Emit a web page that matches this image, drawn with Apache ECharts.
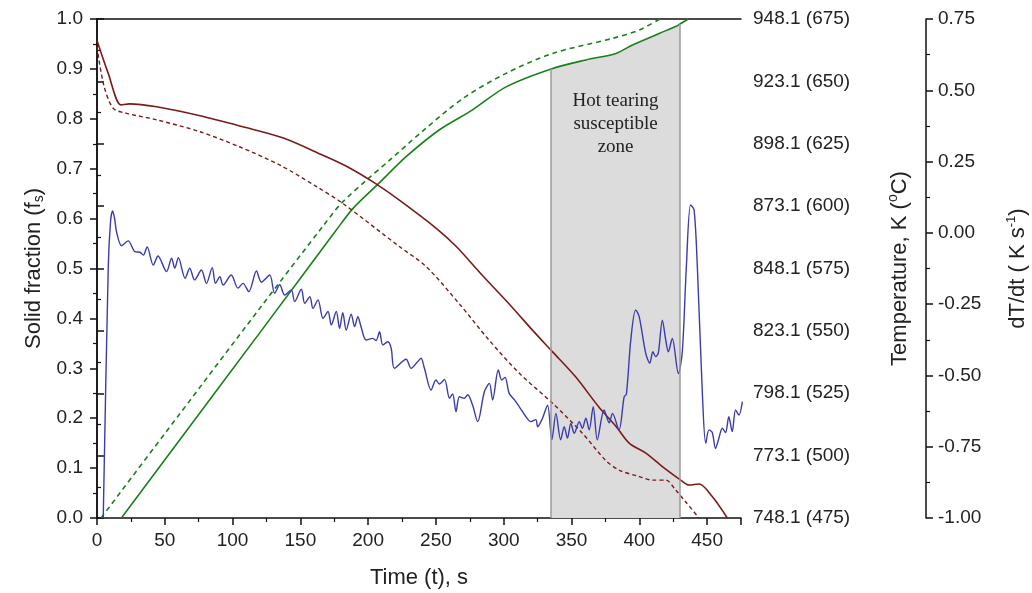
<!DOCTYPE html>
<html>
<head>
<meta charset="utf-8">
<script src="https://cdn.jsdelivr.net/npm/echarts@6/dist/echarts.min.js"></script>
<style>
  html, body { margin: 0; padding: 0; background: #fff; }
  #chart { width: 1032px; height: 593px; }
</style>
</head>
<body>
<div id="chart"></div>
<script>
// solid fraction (left axis)
const fsSolidT = [18, 60, 120, 176.5, 188.7, 208, 228, 252.6, 277, 301.7, 335, 360.6, 382.7, 395, 414.6, 426.8, 430, 436];
const fsSolidV = [0, 0.153, 0.371, 0.577, 0.62, 0.671, 0.724, 0.778, 0.818, 0.864, 0.9, 0.918, 0.931, 0.948, 0.971, 0.985, 0.99, 1.0];
const fsDashT = [3, 60, 120, 166.7, 180, 200, 215.8, 240, 270, 301.7, 336, 380, 400, 415];
const fsDashV = [0, 0.205, 0.42, 0.585, 0.63, 0.68, 0.717, 0.775, 0.841, 0.891, 0.931, 0.961, 0.978, 1.0];

// temperature in °C (right axis)
const tempSolidT = [0, 8.3, 17.7, 24, 44, 76, 107.6, 137, 166.6, 186, 205, 223, 250, 265, 284, 306, 321, 336, 353, 370, 383, 392.5, 404.8, 417, 430.5, 436.7, 444, 453.8, 464.9];
const tempSolidC = [666.4, 653.2, 640.6, 641.0, 639.8, 636.2, 631.8, 627.4, 620.4, 615.4, 609.2, 602.4, 591.2, 583.8, 572.4, 559.6, 550.4, 541.6, 531.6, 519.6, 511.6, 505.0, 501.0, 495.6, 490.2, 488.2, 488.6, 483.6, 475];
const tempDashT = [0, 5, 12, 21.8, 44, 76, 105, 135, 162, 181, 223, 242.7, 267, 289, 311.5, 336, 358, 375, 385, 400, 409.6, 419.5, 426.8, 434, 444];
const tempDashC = [663.8, 648.5, 639.2, 637.2, 634.6, 629.8, 623.8, 616.4, 607.8, 601.2, 583.8, 575.8, 561, 546.4, 533, 521, 509, 498.2, 494.2, 491.6, 490.2, 490.2, 486.2, 481.6, 475];

// cooling rate dT/dt (outer right axis)
const rateT = [4.6, 8.3, 10, 11.5, 13, 14.4, 18.1, 23, 28, 31.7, 34.2, 37, 41.5, 45, 51.3, 55, 57.4, 60, 65, 68.4, 72, 77, 80.7, 85, 87.4, 90.6, 93, 99, 104, 107.7, 112, 117.6, 121.3,
  127.4, 131, 134.8, 138.4, 143.3, 145.8, 150.7, 153.2, 157, 159.3, 163, 166.7, 170.4, 172.8, 176.5, 178.9, 181.3, 183.8, 187.5, 190, 192.4, 194.8, 198.5, 203.4, 205.8, 208.4, 210.8, 214.5, 217, 219.4, 228, 231.7, 236, 239, 241.5,
  246.4, 250, 252.5, 256.3, 260, 262.3, 264.8, 267.3, 271, 273.4, 277, 280.8, 285.7, 289.4, 291.8, 296, 298.5, 301, 304, 307.8, 311.5, 316.4, 320, 323.7, 325, 328.6, 332.3,
  335.5, 338.5, 342, 344.6, 347, 349.5, 352, 355.7, 358, 360.6, 363, 366, 369, 374, 377.8, 380.2, 385, 388.8, 390.5, 393.7, 397.3, 399.9, 404.7, 407.7, 410, 412, 414, 417, 419.5, 421.4, 424.3, 428.8, 431.7,
  434.7, 437.8, 440.4, 442.8, 446.5, 449, 451.4, 453.8, 456.2, 458.7, 461.2, 463.6, 466, 468.5, 471, 473.5, 476];
const rateV = [-1.0, -0.12, 0.04, 0.077, 0.05, 0.004, -0.045, -0.028, -0.066, -0.068, -0.078, -0.049, -0.113, -0.081, -0.136, -0.089, -0.124, -0.087, -0.159, -0.124, -0.165, -0.13, -0.177, -0.122, -0.177, -0.154, -0.183, -0.148, -0.194, -0.177, -0.206, -0.134, -0.173,
  -0.148, -0.212, -0.182, -0.218, -0.2, -0.241, -0.198, -0.247, -0.224, -0.265, -0.235, -0.3, -0.276, -0.323, -0.276, -0.335, -0.28, -0.341, -0.285, -0.329, -0.294, -0.33, -0.376, -0.37, -0.378, -0.347, -0.393, -0.382, -0.405, -0.475, -0.443, -0.475, -0.455, -0.44, -0.475,
  -0.551, -0.516, -0.53, -0.514, -0.58, -0.565, -0.627, -0.575, -0.58, -0.568, -0.604, -0.662, -0.557, -0.528, -0.586, -0.481, -0.516, -0.507, -0.563, -0.585, -0.61, -0.645, -0.662, -0.655, -0.68, -0.65, -0.604,
  -0.726, -0.633, -0.726, -0.68, -0.72, -0.668, -0.703, -0.662, -0.685, -0.65, -0.691, -0.61, -0.726, -0.621, -0.666, -0.633, -0.691, -0.575, -0.565, -0.376, -0.27, -0.294, -0.422, -0.457, -0.417, -0.434, -0.422, -0.306, -0.376, -0.417, -0.37, -0.493, -0.417,
  -0.119, 0.098, 0.08, -0.119, -0.563, -0.738, -0.691, -0.7, -0.756, -0.72, -0.685, -0.7, -0.645, -0.697, -0.621, -0.639, -0.592];

const zoneStart = 335, zoneEnd = 430;
const zoneLabel = 'Hot tearing\nsusceptible\nzone';

const pairs = (xs, ys) => xs.map((x, i) => [x, ys[i]]);
const zoneData = pairs(fsSolidT, fsSolidV).filter(p => p[0] >= zoneStart && p[0] <= zoneEnd);

const RED = '#7a1a1a', GREEN = '#1a801a', BLUE = '#3b3bad';
const FONT = 'Liberation Sans';

const axisCommon = {
  axisLine: { show: true, lineStyle: { color: '#111', width: 1.5 } },
  axisTick: { show: true, inside: false, length: 7, lineStyle: { color: '#111', width: 1.5 } },
  minorTick: { show: true, splitNumber: 2, length: 4, lineStyle: { color: '#111', width: 1.2 } },
  splitLine: { show: false },
  nameLocation: 'middle',
  nameTextStyle: { fontFamily: FONT, fontSize: 22, color: '#222' }
};

const chart = echarts.init(document.getElementById('chart'));
chart.setOption({
  animation: false,
  backgroundColor: '#fff',
  grid: { left: 97, right: 291, top: 19, bottom: 75, outerBoundsMode: 'none', containLabel: false },
  xAxis: [
    Object.assign({}, axisCommon, {
      type: 'value', min: 0, max: 475, interval: 50,
      name: 'Time (t), s', nameGap: 49,
      axisLabel: { fontFamily: FONT, fontSize: 19, color: '#222', margin: 13,
        formatter: v => (v === 475 ? '' : String(v)) }
    }),
    {
      type: 'value', min: 0, max: 475, position: 'top',
      axisLine: { show: true, onZero: false, lineStyle: { color: '#111', width: 1.5 } },
      axisTick: { show: false }, axisLabel: { show: false }, splitLine: { show: false }
    }
  ],
  yAxis: [
    Object.assign({}, axisCommon, {
      type: 'value', min: 0, max: 1, interval: 0.1, position: 'left',
      name: '{a|Solid fraction (f}{s|s}{a|)}', nameGap: 36, nameRotate: 90,
      nameTextStyle: { rich: {
        a: { fontFamily: FONT, fontSize: 22, color: '#222' },
        s: { fontFamily: FONT, fontSize: 14, color: '#222', verticalAlign: 'bottom', padding: [10, 0, 0, 0] }
      } },
      axisLabel: { fontFamily: FONT, fontSize: 19, color: '#222', margin: 14, formatter: v => v.toFixed(1) }
    }),
    Object.assign({}, axisCommon, {
      type: 'value', min: 475, max: 675, interval: 25, position: 'right', offset: 0,
      name: '{a|Temperature, K (}{o|o}{a|C)}', nameGap: 145, nameRotate: 90,
      nameTextStyle: { rich: {
        a: { fontFamily: FONT, fontSize: 22, color: '#222' },
        o: { fontFamily: FONT, fontSize: 14, color: '#222', verticalAlign: 'top', padding: [0, 0, 14, 0] }
      } },
      axisLabel: { fontFamily: FONT, fontSize: 19, color: '#222', margin: 12,
        formatter: v => (v + 273.1).toFixed(1) + ' (' + v + ')' }
    }),
    Object.assign({}, axisCommon, {
      type: 'value', min: -1, max: 0.75, interval: 0.25, position: 'right', offset: 185,
      name: '{a|dT/dt ( K s}{o|-1}{a|)}', nameGap: 79, nameRotate: 90,
      nameTextStyle: { rich: {
        a: { fontFamily: FONT, fontSize: 22, color: '#222' },
        o: { fontFamily: FONT, fontSize: 13, color: '#222', verticalAlign: 'top', padding: [0, 0, 12, 0] }
      } },
      axisLabel: { fontFamily: FONT, fontSize: 19, color: '#222', margin: 12, formatter: v => v.toFixed(2) }
    })
  ],
  series: [
    {
      name: 'zone', type: 'line', xAxisIndex: 0, yAxisIndex: 0, z: 1,
      data: zoneData, symbol: 'none', silent: true,
      lineStyle: { width: 0 },
      areaStyle: { color: '#dcdcdc', opacity: 1 },
      markLine: {
        silent: true, symbol: 'none', label: { show: false },
        lineStyle: { color: '#9a9a9a', width: 1.5, type: 'solid' },
        data: [
          [{ coord: [zoneStart, 0] }, { coord: zoneData[0] }],
          [{ coord: [zoneEnd, 0] }, { coord: zoneData[zoneData.length - 1] }]
        ]
      },
      markArea: {
        silent: true,
        itemStyle: { color: 'rgba(0,0,0,0)' },
        label: { show: true, position: 'insideTop', distance: 71, formatter: zoneLabel,
          fontFamily: 'Liberation Serif', fontSize: 19, lineHeight: 23, color: '#222' },
        data: [[{ xAxis: zoneStart }, { xAxis: zoneEnd }]]
      }
    },
    { name: 'fs', type: 'line', xAxisIndex: 0, yAxisIndex: 0, z: 3, symbol: 'none', smooth: 0.3,
      data: pairs(fsSolidT, fsSolidV), lineStyle: { color: GREEN, width: 1.6 } },
    { name: 'fs dashed', type: 'line', xAxisIndex: 0, yAxisIndex: 0, z: 3, symbol: 'none', smooth: 0.3,
      data: pairs(fsDashT, fsDashV), lineStyle: { color: GREEN, width: 1.6, type: [5, 4] } },
    { name: 'T', type: 'line', xAxisIndex: 0, yAxisIndex: 1, z: 3, symbol: 'none', smooth: 0.3,
      data: pairs(tempSolidT, tempSolidC), lineStyle: { color: RED, width: 1.6 } },
    { name: 'T dashed', type: 'line', xAxisIndex: 0, yAxisIndex: 1, z: 3, symbol: 'none', smooth: 0.3,
      data: pairs(tempDashT, tempDashC), lineStyle: { color: RED, width: 1.4, type: [4, 3] } },
    { name: 'dT/dt', type: 'line', xAxisIndex: 0, yAxisIndex: 2, z: 3, symbol: 'none', smooth: 0.3,
      data: pairs(rateT, rateV), lineStyle: { color: BLUE, width: 1.4 } }
  ]
});
</script>
</body>
</html>
